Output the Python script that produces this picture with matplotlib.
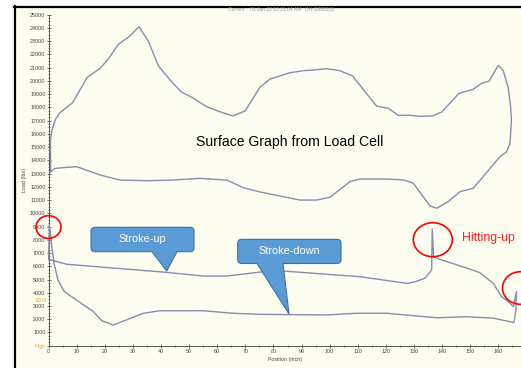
import matplotlib
matplotlib.use("Agg")
import matplotlib.pyplot as plt
from matplotlib.patches import Rectangle, Ellipse, PathPatch
from matplotlib.path import Path
from matplotlib.lines import Line2D
from matplotlib.ticker import MultipleLocator

plt.rcParams['font.family'] = ['Liberation Sans', 'DejaVu Sans']

# ---------------- data ----------------
# Surface card (upper loop): position (inch), load (lbs)
surface_pos = [0.7, 0.6, 1.2, 2.4, 4.0, 6.4, 8.5, 13.7, 18.3, 21.2, 24.8, 28.9, 32.1, 35.4,
               39.0, 43.2, 47.1, 51.2, 56.2, 61.0, 65.5, 69.9, 75.2, 78.8, 85.9, 90.6, 94.2,
               98.9, 103.7, 108.2, 112.6, 116.7, 120.9, 124.4, 128.6, 132.2, 136.7, 139.9,
               146.0, 151.1, 154.1, 156.8, 160.0, 161.8, 163.6, 164.4, 164.7, 164.2, 163.0,
               160.6, 157.6, 151.1, 146.4, 142.2, 138.1, 135.7, 129.8, 126.2, 120.3, 110.8,
               107.2, 100.1, 95.4, 89.4, 75.2, 69.3, 63.4, 53.8, 44.3, 34.9, 25.4, 18.3,
               10.0, 6.4, 2.2, 0.7]
surface_load = [13140, 15500, 16300, 17100, 17600, 18000, 18350, 20270, 20950, 21650, 22760,
                23390, 24090, 23030, 21150, 20070, 19180, 18730, 18050, 17670, 17350, 17730,
                19520, 20140, 20620, 20770, 20820, 20920, 20770, 20370, 19180, 18100, 17930,
                17400, 17400, 17330, 17350, 17650, 19060, 19370, 19820, 19990, 21170, 20770,
                19440, 18050, 17040, 15290, 14650, 14270, 13520, 11890, 11630, 10880, 10380,
                10550, 12270, 12520, 12590, 12590, 12390, 11210, 11000, 11000, 11610, 11930,
                12510, 12640, 12510, 12460, 12510, 12890, 13520, 13470, 13390, 13140]

# Lower loop: position (inch), load (lbs)
lower_pos = [0.0, 6.4, 42.0, 55.0, 63.4, 75.2, 83.5, 110.8, 127.4, 129.8, 133.9, 136.3,
             136.5, 137.0, 138.1, 151.1, 153.5, 158.2, 161.2, 163.6, 165.4, 166.5, 166.3,
             165.6, 158.2, 148.8, 138.1, 120.3, 109.6, 98.9, 75.2, 65.7, 55.0, 39.6, 33.7,
             23.0, 18.9, 15.9, 6.4, 5.5, 3.3, 1.9, 1.1, 0.5, 0.2, 0.0]
lower_load = [6520, 6150, 5540, 5260, 5260, 5560, 5640, 5210, 4710, 4790, 5090, 5720,
              8800, 6720, 6600, 5700, 5510, 4710, 3700, 3320, 2950, 4080, 2700,
              1750, 2080, 2190, 2110, 2450, 2450, 2320, 2370, 2450, 2640, 2640, 2450,
              1560, 1890, 2570, 3960, 4100, 4960, 6220, 7480, 8740, 9100, 6520]

y_ticks = list(range(0, 25001, 1000))
y_labels = ['High'] + [str(v) for v in y_ticks[1:]]
x_ticks = list(range(0, 161, 10))
x_labels = [str(v) for v in x_ticks]

title_text = "Current    01-Jan-22 12:21:04 AM   DH:GIBBS(3)"
main_note = "Surface Graph from Load Cell"
marker_note = "3205"

# ---------------- figure ----------------
W, H = 521, 368
fig = plt.figure(figsize=(W / 100, H / 100), dpi=100, facecolor='white')

def fx(px):
    return px / W

def fy(py):
    return 1 - py / H

cream = '#fdfdf0'
fig.patches.append(Rectangle((fx(15), 0), 1 - fx(15), fy(6.5), transform=fig.transFigure,
                             facecolor=cream, edgecolor='none', zorder=-5))
fig.lines.append(Line2D([fx(15), fx(15)], [0, fy(5.5)], transform=fig.transFigure,
                        color='black', lw=1.6, zorder=1))
fig.lines.append(Line2D([fx(14.2), 1], [fy(6.5), fy(6.5)], transform=fig.transFigure,
                        color='black', lw=1.6, zorder=1))

ax = fig.add_axes([fx(48.7), fy(345.7), 1 - fx(48.7), fy(14.7) - fy(345.7)])
ax.set_zorder(2)
ax.patch.set_alpha(0)
ax.set_xlim(0, 168.1)
ax.set_ylim(0, 25000)

line_col = '#8a8ab2'
ax.plot(surface_pos, surface_load, color=line_col, lw=1.0, clip_on=False, zorder=3)
ax.plot(lower_pos, lower_load, color=line_col, lw=1.0, clip_on=False, zorder=3)

for s in ['top', 'right']:
    ax.spines[s].set_visible(False)
for s in ['left', 'bottom']:
    ax.spines[s].set_color('#555555')
    ax.spines[s].set_linewidth(0.7)

ax.set_yticks(y_ticks)
ax.set_yticklabels(y_labels)
ax.set_xticks(x_ticks)
ax.set_xticklabels(x_labels)
ax.yaxis.set_minor_locator(MultipleLocator(250))
ax.xaxis.set_minor_locator(MultipleLocator(5))
ax.tick_params(axis='both', which='major', direction='inout', length=3, width=0.6,
               color='#555555', labelsize=3.9, labelcolor='#444444', pad=0.8)
ax.tick_params(axis='both', which='minor', direction='inout', length=2, width=0.5,
               color='#555555')
ax.get_yticklabels()[0].set_color('#f5a623')

ax.text(-0.004, 3205, marker_note, transform=ax.get_yaxis_transform(), ha='right',
        va='bottom', fontsize=3.9, color='#f5a623')

ax.set_xlabel("Position (inch)", fontsize=3.8, color='#444444', labelpad=2)
ax.set_ylabel("Load (lbs)", fontsize=3.8, color='#444444', labelpad=2)

fig.text(fx(281.5), fy(9.8), title_text, fontsize=3.5, color='#9a9a9a', ha='center', va='center')

fig.text(fx(289.7), fy(141.7), main_note, fontsize=10.1, color='black', ha='center', va='center')
fig.text(fx(488), fy(238.5), "Hitting-up", fontsize=8.8, color='#ff2020', ha='center', va='center')

# ---- callouts ----
def callout(x0, y0, x1, y1, b0, b1, tx, ty, r=4):
    pts = [((x0 + r, y0), Path.MOVETO), ((x1 - r, y0), Path.LINETO),
           ((x1, y0), Path.CURVE3), ((x1, y0 + r), Path.CURVE3),
           ((x1, y1 - r), Path.LINETO),
           ((x1, y1), Path.CURVE3), ((x1 - r, y1), Path.CURVE3),
           ((b1, y1), Path.LINETO), ((tx, ty), Path.LINETO), ((b0, y1), Path.LINETO),
           ((x0 + r, y1), Path.LINETO),
           ((x0, y1), Path.CURVE3), ((x0, y1 - r), Path.CURVE3),
           ((x0, y0 + r), Path.LINETO),
           ((x0, y0), Path.CURVE3), ((x0 + r, y0), Path.CURVE3),
           ((x0 + r, y0), Path.CLOSEPOLY)]
    verts = [(fx(p[0]), fy(p[1])) for p, _ in pts]
    codes = [c for _, c in pts]
    patch = PathPatch(Path(verts, codes), transform=fig.transFigure, facecolor='#5b9bd5',
                      edgecolor='#41719c', lw=0.8, zorder=5)
    fig.patches.append(patch)

callout(91, 227.3, 194, 251.7, 152, 177, 166.7, 271)
callout(237.7, 239.3, 341, 263.5, 257, 283, 289, 314)
fig.text(fx(142.5), fy(239.5), "Stroke-up", fontsize=7.8, color='white', ha='center',
         va='center', zorder=6)
fig.text(fx(289.3), fy(251.4), "Stroke-down", fontsize=7.8, color='white', ha='center',
         va='center', zorder=6)

# ---- red circles ----
for cx, cy, w, h in [(48.5, 227, 25, 22.6), (432.8, 239.7, 39, 34), (520.5, 288, 36, 32.6)]:
    e = Ellipse((fx(cx), fy(cy)), w / W, h / H, transform=fig.transFigure, fill=False,
                edgecolor='#ff0000', lw=1.2, zorder=6)
    fig.patches.append(e)

fig.savefig("out.png", dpi=100, facecolor='white')
